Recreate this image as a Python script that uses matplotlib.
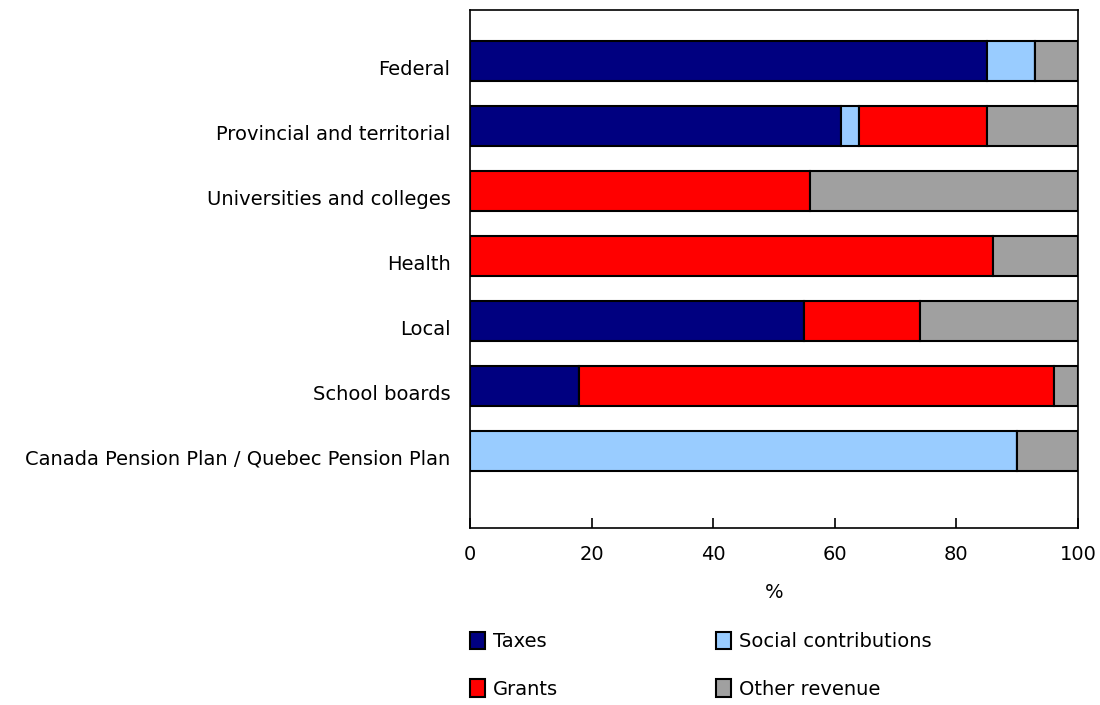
import matplotlib
matplotlib.use("Agg")
import matplotlib.pyplot as plt
import matplotlib.transforms as mtransforms
import numpy as np

categories = ["Federal", "Provincial and territorial", "Universities and colleges",
              "Health", "Local", "School boards",
              "Canada Pension Plan / Quebec Pension Plan"]
series_names = ["Taxes", "Social contributions", "Grants", "Other revenue"]
taxes = [85, 61, 0, 0, 55, 18, 0]
social = [8, 3, 0, 0, 0, 0, 90]
grants = [0, 21, 56, 86, 19, 78, 0]
other = [7, 15, 44, 14, 26, 4, 10]
colors = ["#000080", "#99CCFF", "#FF0000", "#A0A0A0"]
xticks = [0, 20, 40, 60, 80, 100]

FS = 14
plt.rcParams['font.family'] = ['DejaVu Sans']
fig = plt.figure(figsize=(11, 7.05), dpi=100)
ax = fig.add_axes([470/1100, 1-528/705, 608/1100, 518/705])

y = np.arange(len(categories))
left = np.zeros(len(categories))
handles = []
for name, vals, c in zip(series_names, [taxes, social, grants, other], colors):
    vals = np.array(vals, dtype=float)
    h = ax.barh(y, vals, left=left, height=0.615, color=c, edgecolor="#000000",
                linewidth=1.5, label=name)
    handles.append(h)
    left += vals

ax.set_xlim(0, 100)
ax.set_ylim(7.18, -0.785)
ax.set_yticks(y)
ax.set_yticklabels(categories, fontsize=FS)
ax.tick_params(axis='y', length=0, pad=14)
offset = mtransforms.ScaledTranslation(0, -6/100, fig.dpi_scale_trans)
for lab in ax.get_yticklabels():
    lab.set_transform(lab.get_transform() + offset)
ax.set_xticks(xticks)
ax.set_xticklabels([str(t) for t in xticks], fontsize=FS)
ax.tick_params(axis='x', direction='in', length=7, width=1.2, pad=12)
for s in ax.spines.values():
    s.set_linewidth(1.2)
ax.set_xlabel("%", fontsize=FS, labelpad=14)

order = [0, 2, 1, 3]
leg = fig.legend([handles[i] for i in order], [series_names[i] for i in order],
                 loc='upper left', bbox_to_anchor=(462/1100, 1-624/705), ncol=2,
                 frameon=False, fontsize=FS, handlelength=0.8, handleheight=1.0,
                 handletextpad=0.4, labelspacing=1.45, columnspacing=8.1,
                 borderaxespad=0)
fig.savefig("out.png", dpi=100)
